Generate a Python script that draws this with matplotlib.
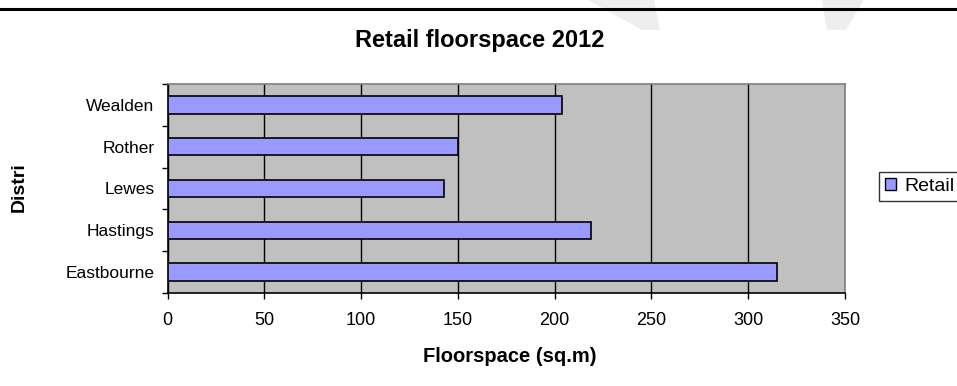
import matplotlib
matplotlib.use('Agg')

import matplotlib.pyplot as plt
from matplotlib.lines import Line2D
from matplotlib.patches import Patch, Polygon

districts = ["Eastbourne", "Hastings", "Lewes", "Rother", "Wealden"]
retail = [315, 219, 143, 150, 204]
xticks = [0, 50, 100, 150, 200, 250, 300, 350]

plt.rcParams['font.family'] = ['Liberation Sans', 'DejaVu Sans']

W, H = 957, 386
fig = plt.figure(figsize=(W / 100, H / 100), dpi=100)

# faint page watermark behind the chart
for pts in ([(588, 0), (654, 0), (660, 30), (642, 30)],
            [(822, 0), (864, 0), (846, 30), (827, 30)]):
    fig.add_artist(Polygon([(x / W, 1 - y / H) for x, y in pts], closed=True,
                           facecolor="#EEEEEE", edgecolor="none",
                           transform=fig.transFigure, zorder=0))

ax = fig.add_axes([167.5 / W, 1 - 293 / H, 677.5 / W, 209 / H])
ax.set_facecolor("#C0C0C0")

ax.barh(range(len(districts)), retail, height=0.42, color="#9999FF",
        edgecolor="black", linewidth=1.2, zorder=3)

ax.set_xlim(0, 350)
ax.set_ylim(-0.5, len(districts) - 0.5)
ax.set_xticks(xticks)
ax.set_xticklabels([str(t) for t in xticks], fontsize=13)
ax.set_yticks(range(len(districts)))
ax.set_yticklabels(districts, fontsize=12.5)
ax.set_yticks([i - 0.5 for i in range(len(districts) + 1)], minor=True)

ax.tick_params(axis="y", which="major", length=0, pad=9.5)
ax.tick_params(axis="y", which="minor", length=4.5, direction="out", width=1)
ax.tick_params(axis="x", length=4.5, direction="out", width=1, pad=9)

ax.xaxis.grid(True, color="black", linewidth=1, zorder=1)
ax.set_axisbelow(True)

for side in ("top", "right"):
    ax.spines[side].set_color("#808080")
    ax.spines[side].set_linewidth(1.2)
for side in ("left", "bottom"):
    ax.spines[side].set_color("black")
    ax.spines[side].set_linewidth(1.2)

fig.text(480 / W, 1 - 40 / H, "Retail floorspace 2012", ha="center",
         va="center", fontsize=17, fontweight="bold")
fig.text(510 / W, 1 - 357 / H, "Floorspace (sq.m)", ha="center",
         va="center", fontsize=14.5, fontweight="bold")
fig.text(19 / W, 1 - 187 / H, "Distri", ha="center", va="center",
         rotation=90, fontsize=14, fontweight="bold")

handle = Patch(facecolor="#9999FF", edgecolor="black", linewidth=1)
leg = fig.legend([handle], ["Retail"], loc="upper left",
                 bbox_to_anchor=(879 / W, 1 - 172 / H), fontsize=14,
                 frameon=True, fancybox=False, handlelength=0.55,
                 handleheight=0.55, handletextpad=0.45, borderpad=0.3,
                 borderaxespad=0)
leg.get_frame().set_edgecolor("black")
leg.get_frame().set_linewidth(1)

fig.add_artist(Line2D([0, 1], [1 - 9 / H, 1 - 9 / H], color="black",
                      linewidth=2.2, transform=fig.transFigure, zorder=2))

fig.savefig("out.png", dpi=100, facecolor="white")
